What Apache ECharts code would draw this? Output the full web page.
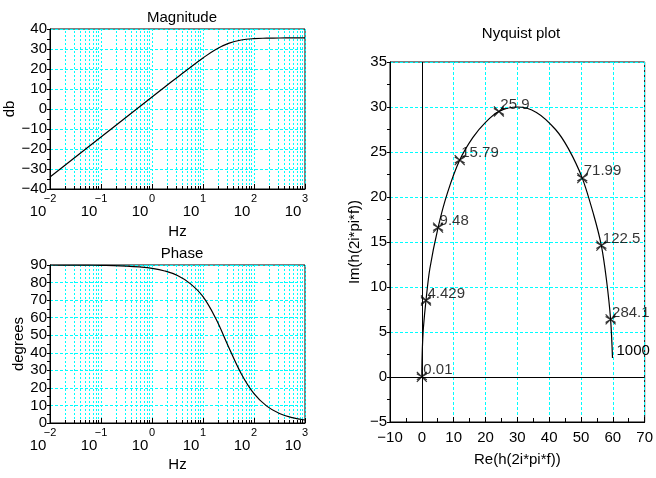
<!DOCTYPE html>
<html>
<head>
<meta charset="utf-8">
<script src="https://cdn.jsdelivr.net/npm/echarts@6/dist/echarts.min.js"></script>
<style>
html, body { margin: 0; padding: 0; background: #fff; }
#c { width: 656px; height: 478px; }
</style>
</head>
<body>
<div id="c"></div>
<script>
// Bode data: frequency (Hz), gain (dB), phase (degrees)
const freqHz = [0.01, 0.0178, 0.0316, 0.0562, 0.1, 0.178, 0.316, 0.562, 1, 1.78, 3.16, 5.62,
  10, 17.8, 31.6, 56.2, 100, 178, 316, 562, 1000];
const magDb = [-34.0, -29.0, -24.0, -19.0, -14.0, -9.0, -4.0, 1.0, 6.0, 11.0, 15.9, 20.8,
  25.5, 29.8, 32.8, 34.5, 35.2, 35.4, 35.5, 35.55, 35.56];
const phaseDeg = [90.0, 89.97, 89.94, 89.9, 89.8, 89.7, 89.4, 88.9, 88.1, 86.6, 84.0, 79.4,
  72.0, 59.5, 43.5, 28.1, 16.7, 9.6, 5.4, 3.05, 1.7];

// Nyquist locus: real and imaginary parts
const nyqRe = [0.0, 0.01, 0.05, 0.2, 0.5, 1.3, 2.5, 5.1, 8.0, 11.9, 16.0, 20.0, 24.2, 30.0,
  36.0, 42.0, 46.0, 50.4, 54.0, 56.4, 58.0, 59.3, 59.9];
const nyqIm = [0.02, 0.8, 1.7, 3.5, 5.5, 8.5, 12.0, 16.6, 20.4, 24.1, 26.6, 28.3, 29.5, 30.0,
  29.4, 27.5, 25.4, 22.1, 18.0, 14.6, 10.8, 6.4, 2.1];

// Frequencies marked along the locus
const markLabels = ['0.01', '4.429', '9.48', '15.79', '25.9', '71.99', '122.5', '284.1', '1000'];
const markRe = [0.0, 1.3, 5.1, 11.9, 24.2, 50.4, 56.4, 59.3, 59.9];
const markIm = [0.02, 8.5, 16.6, 24.1, 29.5, 22.1, 14.6, 6.4, 2.1];

// Axis ranges
const decadeMin = 0.01, decadeMax = 1000;
const magRange = [-40, 40], phaseRange = [0, 90];
const reRange = [-10, 70], imRange = [-5, 35];

const CYAN = '#00ffff';
const FONT = 'Liberation Sans, Arial, sans-serif';

// positions of the 2..9 minor lines of each decade
const minorFreqs = [];
for (let e = -2; e < 3; e++) {
  for (let k = 2; k <= 9; k++) minorFreqs.push(+(k * Math.pow(10, e)).toPrecision(2));
}

const minus = s => String(s).replace('-', '\u2212');

function expAxis(gridIndex) {
  return {
    type: 'log', logBase: 10, gridIndex, position: 'bottom', min: decadeMin, max: decadeMax, splitNumber: 5,
    axisLine: { show: true, onZero: false, lineStyle: { color: '#000', width: 1 } },
    axisTick: { show: true, inside: true, length: 5, lineStyle: { color: '#000' } },
    axisLabel: {
      show: true, margin: 4, fontSize: 11, color: '#000', fontFamily: FONT,
      showMinLabel: true, showMaxLabel: true,
      formatter: v => minus(Math.round(Math.log10(v)))
    },
    splitLine: { show: true, lineStyle: { color: CYAN, type: [2, 2], width: 1 } }
  };
}
function baseAxis(gridIndex, nameGap) {
  return {
    type: 'log', logBase: 10, gridIndex, position: 'bottom', min: decadeMin, max: decadeMax, splitNumber: 5,
    name: 'Hz', nameLocation: 'middle', nameGap,
    nameTextStyle: { fontSize: 15, color: '#000', fontFamily: FONT },
    axisLine: { show: false, onZero: false }, axisTick: { show: false }, splitLine: { show: false },
    axisLabel: {
      show: true, margin: 15, fontSize: 15, color: '#000', fontFamily: FONT,
      padding: [0, 24, 0, 0], showMinLabel: true, showMaxLabel: true,
      formatter: () => '10'
    }
  };
}
function valueY(gridIndex, range, interval, name, nameGap) {
  return {
    type: 'value', gridIndex, position: 'left', min: range[0], max: range[1], interval,
    name, nameLocation: 'middle', nameGap,
    nameTextStyle: { fontSize: 15, color: '#000', fontFamily: FONT },
    axisLine: { show: true, onZero: false, lineStyle: { color: '#000', width: 1 } },
    axisTick: { show: true, inside: false, length: 3, lineStyle: { color: '#000' } },
    minorTick: { show: true, splitNumber: 2, length: 3, lineStyle: { color: '#000' } },
    axisLabel: { fontSize: 15, color: '#000', fontFamily: FONT, margin: 3, formatter: minus },
    splitLine: { show: true, lineStyle: { color: CYAN, type: [3, 2], width: 1 } }
  };
}

// dotted minor grid lines plus short inner ticks on the bottom edge of a Bode plot
function bodeMinor(yBottom, tickLen) {
  const lines = minorFreqs.map(f => ({ xAxis: f }));
  const ticks = minorFreqs.map(f => [
    { coord: [f, yBottom], lineStyle: { color: '#000', type: 'solid', width: 1 } },
    { coord: [f, yBottom + tickLen] }
  ]);
  return {
    silent: true, symbol: ['none', 'none'], animation: false,
    label: { show: false },
    lineStyle: { color: CYAN, type: [2, 2], width: 1 },
    data: lines.concat(ticks)
  };
}

const crossPath = 'path://M0,0L10,10M0,10L10,0M0,2L10,8M0,8L10,2';

const titleStyle = { fontSize: 15, fontWeight: 'normal', color: '#000', fontFamily: FONT };

const option = {
  animation: false,
  backgroundColor: '#fff',
  textStyle: { fontFamily: FONT },
  title: [
    { text: 'Magnitude', left: 177, top: 5, textAlign: 'center', textStyle: titleStyle },
    { text: 'Phase', left: 177, top: 241, textAlign: 'center', textStyle: titleStyle },
    { text: 'Nyquist plot', left: 516, top: 21, textAlign: 'center', textStyle: titleStyle }
  ],
  grid: [
    { left: 50, top: 29, width: 255, height: 160, show: true, borderColor: '#000', borderWidth: 1, backgroundColor: 'transparent' },
    { left: 50, top: 265, width: 255, height: 158, show: true, borderColor: '#000', borderWidth: 1, backgroundColor: 'transparent' },
    { left: 390, top: 62, width: 256, height: 360, show: true, borderColor: '#000', borderWidth: 1, backgroundColor: 'transparent' }
  ],
  xAxis: [
    expAxis(0), baseAxis(0, 35),
    expAxis(1), baseAxis(1, 34),
    {
      type: 'value', gridIndex: 2, position: 'bottom', min: reRange[0], max: reRange[1], interval: 10,
      name: 'Re(h(2i*pi*f))', nameLocation: 'middle', nameGap: 30,
      nameTextStyle: { fontSize: 15, color: '#000', fontFamily: FONT },
      axisLine: { show: true, onZero: false, lineStyle: { color: '#000', width: 1 } },
      axisTick: { show: true, inside: true, length: 5, lineStyle: { color: '#000' } },
      minorTick: { show: true, splitNumber: 2, length: 4, lineStyle: { color: '#000' } },
      axisLabel: { fontSize: 15, color: '#000', fontFamily: FONT, margin: 8, formatter: minus },
      splitLine: { show: true, lineStyle: { color: CYAN, type: [3, 2], width: 1 } }
    }
  ],
  yAxis: [
    valueY(0, magRange, 10, 'db', 26),
    valueY(1, phaseRange, 10, 'degrees', 22),
    valueY(2, imRange, 5, 'Im(h(2i*pi*f))', 28)
  ],
  series: [
    {
      type: 'line', xAxisIndex: 0, yAxisIndex: 0, smooth: 0.4, symbol: 'none',
      lineStyle: { color: '#000', width: 1.2 },
      data: freqHz.map((f, i) => [f, magDb[i]]),
      markLine: bodeMinor(magRange[0], 1.5), z: 5
    },
    {
      type: 'line', xAxisIndex: 2, yAxisIndex: 1, smooth: 0.4, symbol: 'none',
      lineStyle: { color: '#000', width: 1.2 },
      data: freqHz.map((f, i) => [f, phaseDeg[i]]),
      markLine: bodeMinor(phaseRange[0], 1.7), z: 5
    },
    {
      type: 'line', xAxisIndex: 4, yAxisIndex: 2, smooth: 0.3, symbol: 'none',
      lineStyle: { color: '#000', width: 1.2 },
      data: nyqRe.map((r, i) => [r, nyqIm[i]]),
      markLine: {
        silent: true, symbol: ['none', 'none'], animation: false, label: { show: false },
        lineStyle: { color: '#000', type: 'solid', width: 1 },
        data: [{ xAxis: 0 }, { yAxis: 0 }]
      }, z: 5
    },
    {
      type: 'scatter', xAxisIndex: 4, yAxisIndex: 2,
      symbol: crossPath, symbolSize: 10,
      itemStyle: { color: 'none', borderColor: '#000', borderWidth: 1.2 },
      label: {
        show: true, position: 'right', distance: 0, offset: [-6, -7],
        formatter: '{b}', fontSize: 15, color: '#000', fontFamily: FONT
      },
      data: markLabels.map((name, i) => {
        const item = { name, value: [markRe[i], markIm[i]] };
        if (name === '1000') {
          // end of the locus: labelled, no marker
          item.symbol = 'circle';
          item.symbolSize = 1;
          item.itemStyle = { opacity: 0 };
          item.label = { show: true, opacity: 1, offset: [1, -7] };
        }
        return item;
      }),
      z: 6
    }
  ]
};

echarts.init(document.getElementById('c'), null, { renderer: 'canvas' }).setOption(option);
</script>
</body>
</html>
